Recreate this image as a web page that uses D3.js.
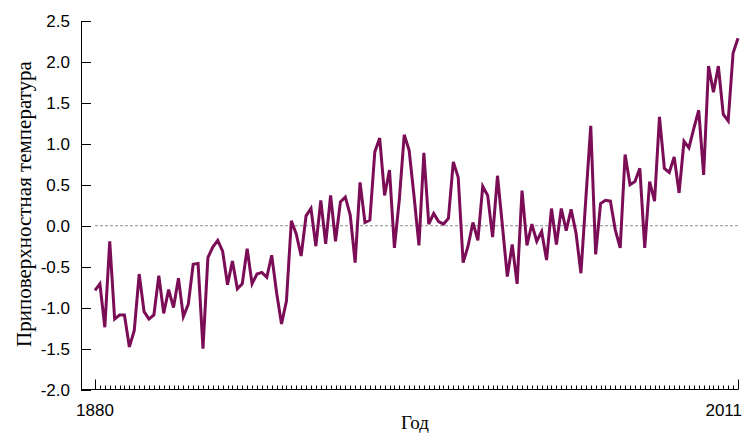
<!DOCTYPE html>
<html>
<head>
<meta charset="utf-8">
<script src="https://cdn.jsdelivr.net/npm/d3@7"></script>
<style>
  body { margin: 0; background: #fff; }
</style>
</head>
<body>
<div id="wrapper"></div>
<script>
width = 747
height = 434

// годы и аномалии температуры
const firstYear = 1880
const lastYear = 2011
const anomaly = [
  -0.79, -0.71, -1.24, -0.19, -1.14, -1.09, -1.09, -1.48, -1.28, -0.59,
  -1.05, -1.14, -1.09, -0.61, -1.07, -0.78, -1.00, -0.64, -1.11, -0.96,
  -0.47, -0.46, -1.50, -0.39, -0.26, -0.18, -0.31, -0.72, -0.43, -0.77,
  -0.71, -0.28, -0.71, -0.59, -0.57, -0.63, -0.36, -0.82, -1.20, -0.92,
  0.06, -0.10, -0.37, 0.12, 0.21, -0.25, 0.31, -0.22, 0.37, -0.19,
  0.29, 0.35, 0.13, -0.45, 0.53, 0.04, 0.07, 0.90, 1.07, 0.37,
  0.68, -0.27, 0.32, 1.11, 0.92, 0.36, -0.24, 0.89, 0.02, 0.15,
  0.05, 0.02, 0.09, 0.78, 0.59, -0.45, -0.25, 0.04, -0.18, 0.48,
  0.37, -0.14, 0.61, 0.00, -0.62, -0.23, -0.71, 0.43, -0.24, 0.02,
  -0.19, -0.07, -0.42, 0.21, -0.23, 0.21, -0.06, 0.20, -0.09, -0.58,
  0.33, 1.22, -0.35, 0.27, 0.31, 0.30, -0.05, -0.27, 0.87, 0.50,
  0.54, 0.70, -0.27, 0.54, 0.30, 1.33, 0.70, 0.65, 0.84, 0.40,
  1.03, 0.95, 1.19, 1.41, 0.62, 1.95, 1.63, 1.95, 1.36, 1.28,
  2.11, 2.29
]
const years = d3.range(firstYear, lastYear + 1)
const yTicks = [-2.0, -1.5, -1.0, -0.5, 0.0, 0.5, 1.0, 1.5, 2.0, 2.5]
const xLabels = [1880, 2011]

const data = years.map((y, i) => ({year: y, value: anomaly[i]}))

const axisX = 81
x = d3.scaleLinear().domain([firstYear, lastYear]).range([95, 738])
y = d3.scaleLinear().domain([-2, 2.5]).range([389.5, 21])

const svg = d3.select("#wrapper").append("svg")
    .attr("width", width)
    .attr("height", height)

// нулевая линия
svg.append("line")
    .attr("x1", x(firstYear))
    .attr("x2", x(lastYear))
    .attr("y1", y(0))
    .attr("y2", y(0))
    .attr("stroke", "#8c8c8c")
    .attr("stroke-width", 1)
    .attr("stroke-dasharray", "3,2")

// оси
svg.append("line")
    .attr("x1", axisX + 0.5).attr("x2", axisX + 0.5)
    .attr("y1", y(2.5)).attr("y2", y(-2))
    .attr("stroke", "#000")
svg.append("line")
    .attr("x1", axisX).attr("x2", x(lastYear) + 0.5)
    .attr("y1", y(-2)).attr("y2", y(-2))
    .attr("stroke", "#000")

const yAxisG = svg.append("g")
yAxisG.selectAll("line")
    .data(yTicks)
    .join("line")
    .attr("x1", axisX)
    .attr("x2", axisX + 10)
    .attr("y1", d => Math.round(y(d)) + 0.5)
    .attr("y2", d => Math.round(y(d)) + 0.5)
    .attr("stroke", "#000")
yAxisG.selectAll("text")
    .data(yTicks)
    .join("text")
    .attr("x", 70)
    .attr("y", d => y(d))
    .attr("dy", "0.36em")
    .attr("text-anchor", "end")
    .style("font", "17px 'Liberation Sans', Arial, sans-serif")
    .text(d => d.toFixed(1))

const xAxisG = svg.append("g")
xAxisG.selectAll("line")
    .data(years)
    .join("line")
    .attr("x1", d => Math.round(x(d)) + 0.5)
    .attr("x2", d => Math.round(x(d)) + 0.5)
    .attr("y1", y(-2))
    .attr("y2", d => xLabels.includes(d) ? y(-2) - 10 : y(-2) - 4)
    .attr("stroke", "#000")
xAxisG.selectAll("text")
    .data(xLabels)
    .join("text")
    .attr("x", d => d === lastYear ? 742 : x(d))
    .attr("y", 416)
    .attr("text-anchor", d => d === lastYear ? "end" : "middle")
    .style("font", "17px 'Liberation Sans', Arial, sans-serif")
    .text(d => d)

// подписи осей
svg.append("text")
    .attr("transform", `translate(31, 204) rotate(-90)`)
    .attr("text-anchor", "middle")
    .style("font", "21px 'Liberation Serif', 'Times New Roman', serif")
    .text("Приповерхностная температура")

svg.append("text")
    .attr("x", 415)
    .attr("y", 429)
    .attr("text-anchor", "middle")
    .style("font", "19px 'Liberation Serif', 'Times New Roman', serif")
    .text("Год")

// линия
line = d3.line()
    .x(d => x(d.year))
    .y(d => y(d.value))

svg.append("path")
    .datum(data)
    .attr("fill", "none")
    .attr("stroke", "#7b0c56")
    .attr("stroke-width", 3)
    .attr("stroke-linejoin", "miter")
    .attr("d", line)
</script>
</body>
</html>
